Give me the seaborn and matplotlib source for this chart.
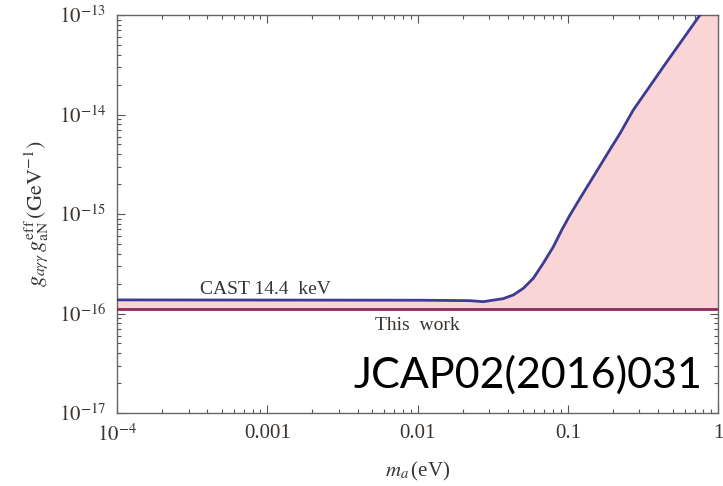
import numpy as np
import pandas as pd
import matplotlib
matplotlib.use("Agg")
import matplotlib.pyplot as plt
from matplotlib.ticker import LogLocator, NullFormatter, FixedLocator, FixedFormatter
import seaborn as sns

# CAST 14.4 keV bound on g_agg * g_aN^eff versus axion mass
cast_mass = [1e-4, 0.0104, 0.0141, 0.0223, 0.0274, 0.0372, 0.0434, 0.0506, 0.0590,
             0.0687, 0.0802, 0.0912, 0.1035, 0.1208, 0.148, 0.1815, 0.223, 0.273,
             0.451, 0.759, 1.0]
cast_coupling = [1.37e-16, 1.36e-16, 1.355e-16, 1.346e-16, 1.315e-16, 1.41e-16,
                 1.535e-16, 1.79e-16, 2.26e-16, 3.2e-16, 4.69e-16, 6.9e-16, 9.77e-16,
                 1.44e-15, 2.37e-15, 3.92e-15, 6.47e-15, 1.11e-14, 3.3e-14, 1.0e-13,
                 1.3e-13]
# This work: mass-independent limit
this_work_coupling = 1.1e-16

x_ticks = [1e-4, 1e-3, 1e-2, 1e-1, 1]
x_tick_labels = [r"$10^{-4}$", "0.001", "0.01", "0.1", "1"]
y_ticks = [1e-17, 1e-16, 1e-15, 1e-14, 1e-13]
y_tick_labels = [r"$10^{-17}$", r"$10^{-16}$", r"$10^{-15}$", r"$10^{-14}$", r"$10^{-13}$"]

sns.set_theme(style="ticks")
plt.rcParams["font.family"] = ["Liberation Serif", "DejaVu Serif"]
plt.rcParams["mathtext.fontset"] = "stix"

df = pd.DataFrame({"m": cast_mass, "g": cast_coupling})
df_tw = pd.DataFrame({"m": [1e-4, 1.0], "g": [this_work_coupling] * 2})

fig = plt.figure(figsize=(7.23, 4.86), dpi=100)
ax = fig.add_axes([117 / 723, 1 - 413 / 486, 601 / 723, 398 / 486])

ax.fill_between(df["m"], this_work_coupling, df["g"], color="#f9d5d6", lw=0, zorder=1)
sns.lineplot(data=df, x="m", y="g", ax=ax, color="#3c3c96", lw=2.0, zorder=3)
sns.lineplot(data=df_tw, x="m", y="g", ax=ax, color="#8e2a5c", lw=2.0, zorder=3)

ax.set_xscale("log")
ax.set_yscale("log")
ax.set_xlim(1e-4, 1)
ax.set_ylim(1e-17, 1e-13)

text_color = "#3a3430"
ax.xaxis.set_major_locator(FixedLocator(x_ticks))
ax.xaxis.set_major_formatter(FixedFormatter(x_tick_labels))
ax.yaxis.set_major_locator(FixedLocator(y_ticks))
ax.yaxis.set_major_formatter(FixedFormatter(y_tick_labels))
for axis in (ax.xaxis, ax.yaxis):
    axis.set_minor_locator(LogLocator(base=10, subs=np.arange(2, 10), numticks=20))
    axis.set_minor_formatter(NullFormatter())

ax.tick_params(which="both", direction="in", top=True, right=True,
               color="#555555", width=0.8, labelsize=15, labelcolor=text_color, pad=8)
ax.tick_params(which="major", length=6)
ax.tick_params(which="minor", length=3)
for s in ax.spines.values():
    s.set_color("#666666")
    s.set_linewidth(1.0)

ax.set_xlabel(r"$m_a\,$(eV)", fontsize=15, color=text_color, labelpad=10)
ax.set_ylabel(r"$g_{a\gamma\gamma}\,g_{\rm aN}^{\rm eff}\,({\rm GeV}^{-1})$",
              fontsize=16, color=text_color, labelpad=6)

ax.text(9.8e-4, 10 ** -15.76, "CAST 14.4  keV", fontsize=14, color=text_color,
        ha="center", va="center")
ax.text(1.0e-2, 10 ** -16.12, "This  work", fontsize=14, color=text_color,
        ha="center", va="center")
ax.text(0.0545, 10 ** -16.62, "JCAP02(2016)031", fontsize=31, color="black",
        family=["Lato", "DejaVu Sans"], ha="center", va="center")

fig.savefig("out.png", dpi=100)
